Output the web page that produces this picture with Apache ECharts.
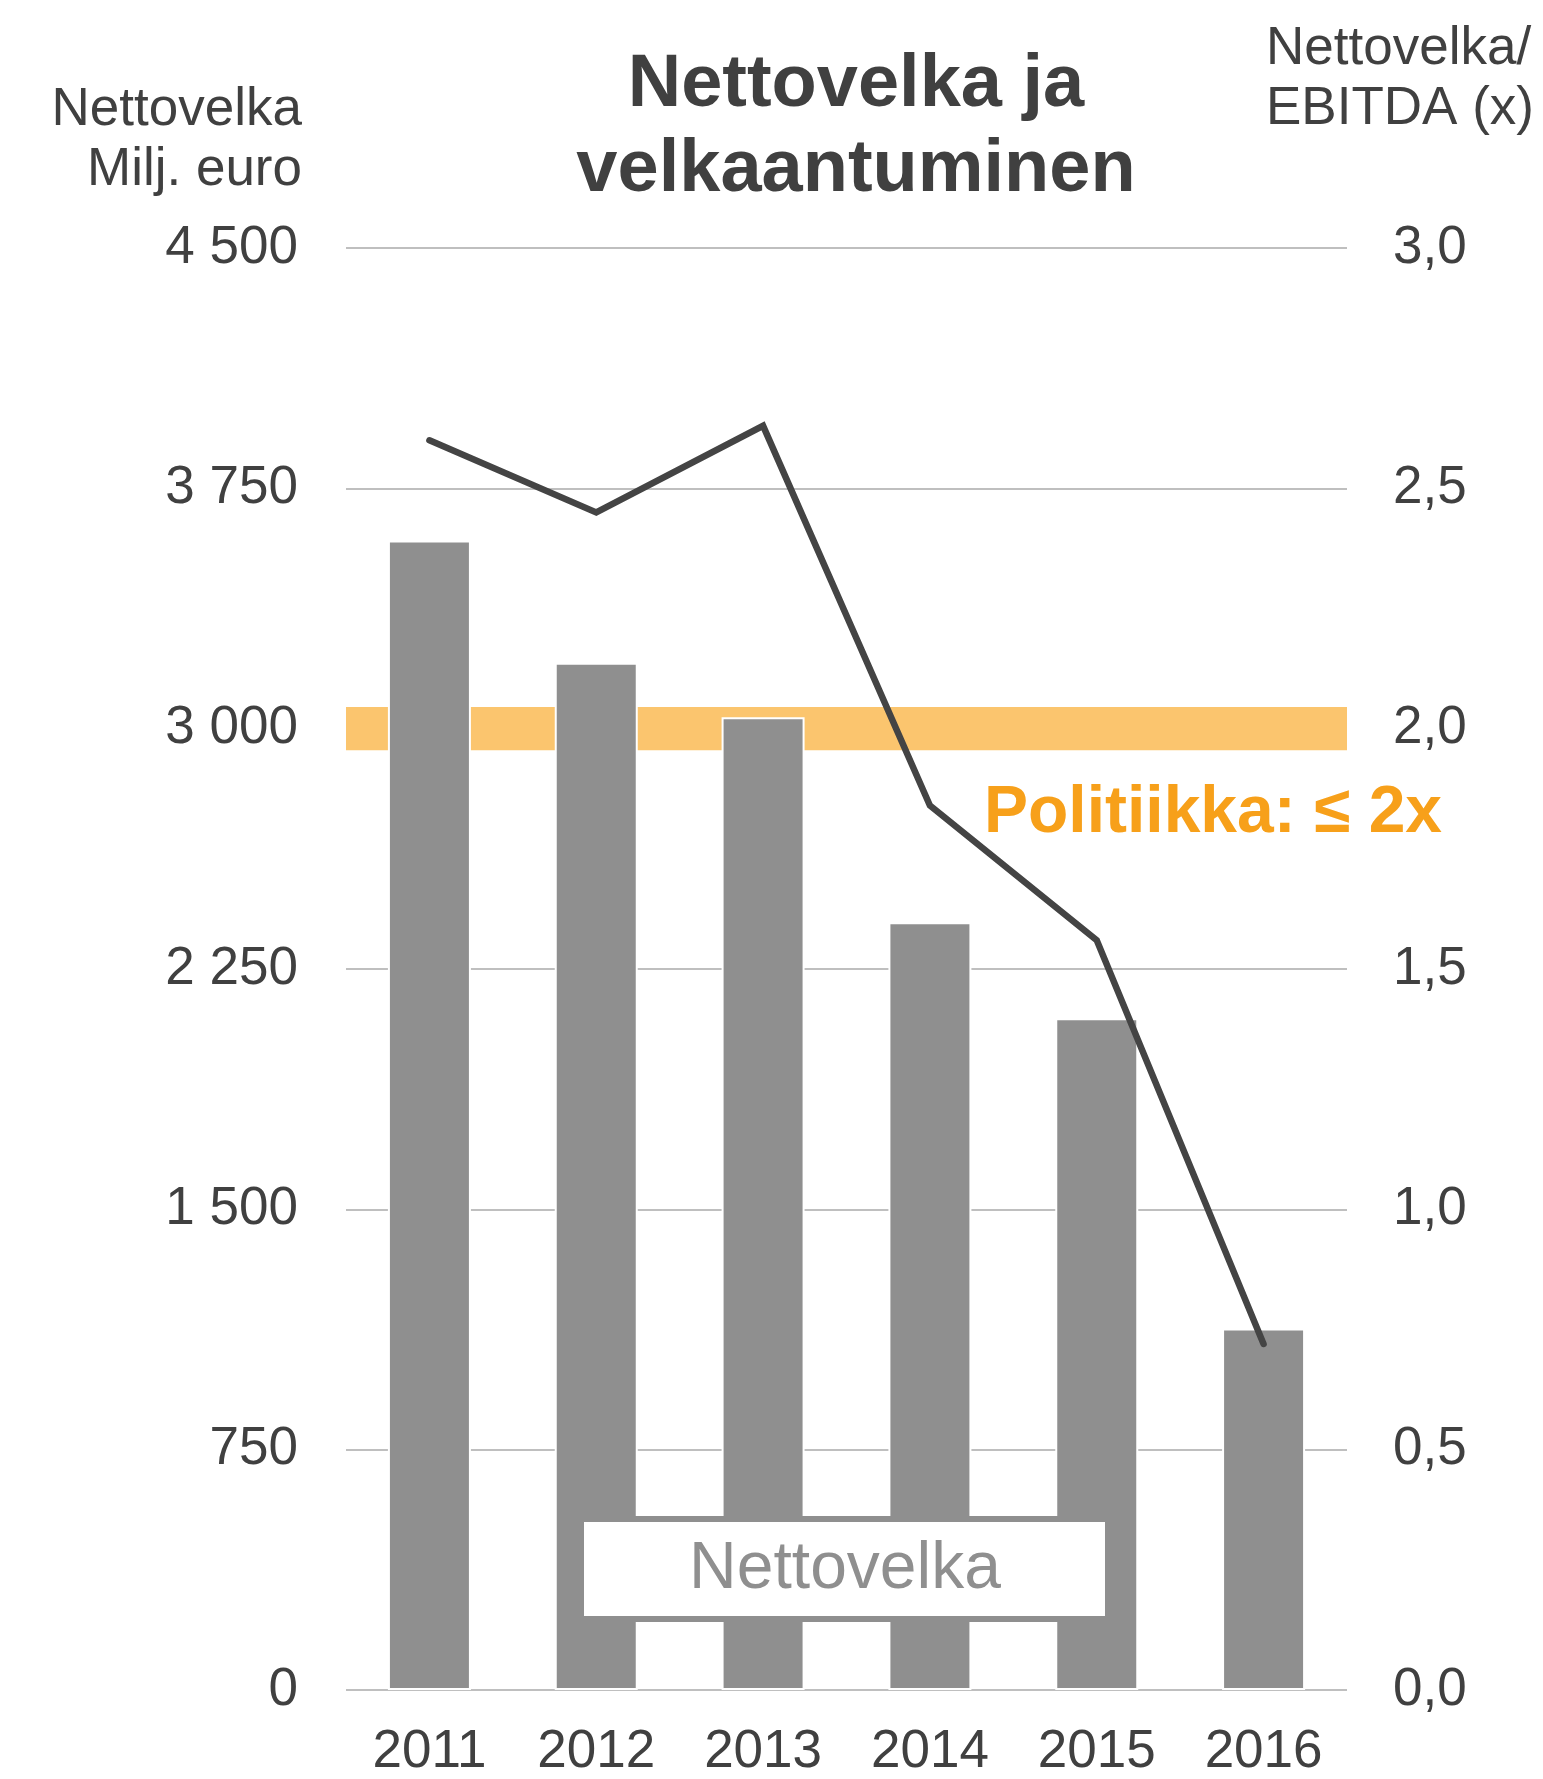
<!DOCTYPE html>
<html>
<head>
<meta charset="utf-8">
<script src="https://cdn.jsdelivr.net/npm/echarts@6/dist/echarts.min.js"></script>
<style>
html,body{margin:0;padding:0;background:#fff;overflow:hidden;}
#chart{width:1543px;height:1779px;}
</style>
</head>
<body>
<div id="chart"></div>
<script>
// ---- Data ----
var years = ['2011', '2012', '2013', '2014', '2015', '2016'];
var netDebt = [3587, 3206, 3036, 2396, 2096, 1128];           // Milj. euro
var netDebtToEbitda = [2.60, 2.45, 2.63, 1.84, 1.56, 0.72];   // x
var leftTickLabels = ['0', '750', '1 500', '2 250', '3 000', '3 750', '4 500'];
var rightTickLabels = ['0,0', '0,5', '1,0', '1,5', '2,0', '2,5', '3,0'];
var policyBand = [1.955, 2.045];   // Politiikka: <= 2x band around 2,0

var FONT = "'Liberation Sans', Arial, Helvetica, sans-serif";
var TXT = '#404040';

var chart = echarts.init(document.getElementById('chart'), null, {renderer: 'canvas', width: 1543, height: 1779});

var option = {
  animation: false,
  backgroundColor: '#ffffff',
  grid: {left: 346, width: 1001, top: 248, height: 1448.5, containLabel: false},
  xAxis: {
    type: 'category',
    data: years,
    axisLine: {show: false},
    axisTick: {show: false},
    axisLabel: {margin: 36, color: TXT, fontSize: 53, fontFamily: FONT}
  },
  yAxis: [
    {
      type: 'value', min: 0, max: 4500, interval: 750,
      axisLine: {show: false}, axisTick: {show: false},
      axisLabel: {
        margin: 48, color: TXT, fontSize: 53, fontFamily: FONT,
        formatter: function (v) { return leftTickLabels[Math.round(v / 750)]; }
      },
      splitLine: {show: true, lineStyle: {color: '#bfbfbf', width: 2}}
    },
    {
      type: 'value', min: 0, max: 3, interval: 0.5,
      axisLine: {show: false}, axisTick: {show: false},
      axisLabel: {
        margin: 46, color: TXT, fontSize: 53, fontFamily: FONT,
        formatter: function (v) { return rightTickLabels[Math.round(v / 0.5)]; }
      },
      splitLine: {show: false}
    }
  ],
  series: [
    {
      name: 'Nettovelka',
      type: 'bar',
      data: netDebt,
      yAxisIndex: 0,
      barWidth: 83,
      z: 2,
      silent: true,
      itemStyle: {color: '#8f8f8f', borderColor: '#ffffff', borderWidth: 2}
    },
    {
      name: 'Nettovelka/EBITDA',
      type: 'line',
      data: netDebtToEbitda,
      yAxisIndex: 1,
      z: 3,
      silent: true,
      showSymbol: false,
      symbol: 'none',
      lineStyle: {color: '#444444', width: 6.5, cap: 'round', join: 'miter'},
      markArea: {
        silent: true,
        z: 1,
        itemStyle: {color: '#fbc56e'},
        label: {show: false},
        data: [[{yAxis: policyBand[0]}, {yAxis: policyBand[1]}]]
      }
    }
  ],
  graphic: [
    {
      type: 'text', x: 856, y: 128, z: 10,
      style: {
        text: 'Nettovelka ja\nvelkaantuminen',
        fill: TXT, font: 'bold 74px ' + FONT, lineHeight: 85,
        align: 'center', verticalAlign: 'middle'
      }
    },
    {
      type: 'text', x: 302, y: 140, z: 10,
      style: {
        text: 'Nettovelka\nMilj. euro',
        fill: TXT, font: '53px ' + FONT, lineHeight: 60,
        align: 'right', verticalAlign: 'middle'
      }
    },
    {
      type: 'text', x: 1266, y: 79, z: 10,
      style: {
        text: 'Nettovelka/\nEBITDA (x)',
        fill: TXT, font: '53px ' + FONT, lineHeight: 60,
        align: 'left', verticalAlign: 'middle'
      }
    },
    {
      type: 'text', x: 984, y: 814, z: 10,
      style: {
        text: 'Politiikka: \u2264 2x',
        fill: '#f7a01a', font: 'bold 66px ' + FONT,
        align: 'left', verticalAlign: 'middle'
      }
    },
    {
      type: 'group', z: 10,
      children: [
        {
          type: 'rect', z: 10,
          shape: {x: 581, y: 1519, width: 527, height: 100},
          style: {fill: '#ffffff', stroke: '#8f8f8f', lineWidth: 6}
        },
        {
          type: 'text', z: 11, x: 845, y: 1570,
          style: {
            text: 'Nettovelka', fill: '#8f8f8f', font: '66px ' + FONT,
            align: 'center', verticalAlign: 'middle'
          }
        }
      ]
    }
  ]
};

chart.setOption(option);
</script>
</body>
</html>
